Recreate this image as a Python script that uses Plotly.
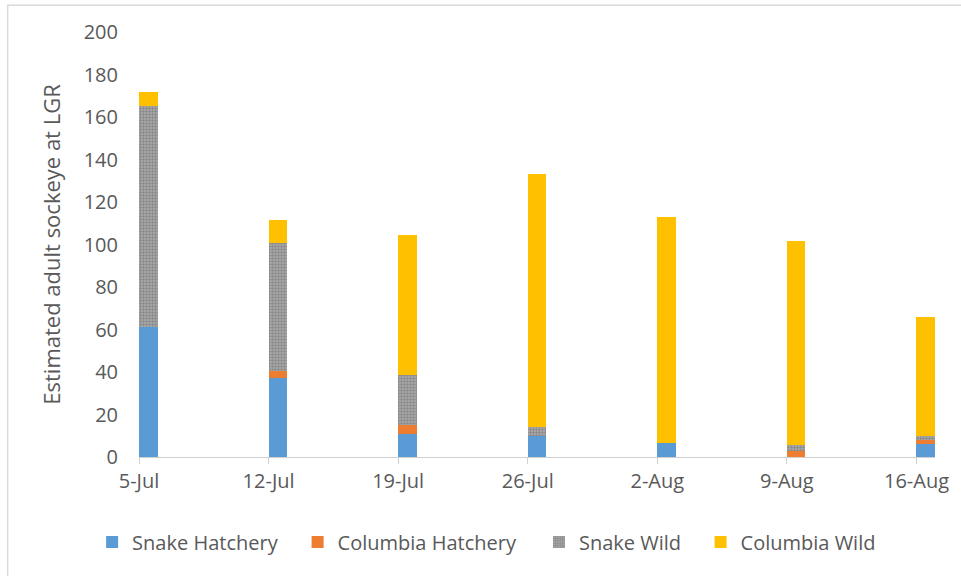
import plotly.graph_objects as go

dates = ["5-Jul", "12-Jul", "19-Jul", "26-Jul", "2-Aug", "9-Aug", "16-Aug"]
day_offset = [0, 7, 14, 21, 28, 35, 42]  # days since 5-Jul

snake_hatchery = [61, 37, 11, 10, 6.5, 0, 6]
columbia_hatchery = [0, 3.5, 4, 0, 0, 3, 2]
snake_wild = [104, 60, 23.5, 4, 0, 2.5, 2]
columbia_wild = [7, 11, 66, 119, 106.5, 96, 56]

y_ticks = [0, 20, 40, 60, 80, 100, 120, 140, 160, 180, 200]

FONT = "Open Sans"
TXT = "#595959"

L, R = 139, 937
def px_to_paper(px):
    return (px - L) / (R - L)

fig = go.Figure()

series = [
    ("Snake Hatchery", snake_hatchery, "#5B9BD5", None, "legend", 106),
    ("Columbia Hatchery", columbia_hatchery, "#ED7D31", None, "legend2", 312),
    ("Snake Wild", snake_wild, "#A5A5A5", "pattern", "legend3", 554),
    ("Columbia Wild", columbia_wild, "#FFC000", None, "legend4", 716),
]

legends = {}
for name, vals, color, pat, lg, sq in series:
    marker = dict(color=color, line=dict(width=0))
    if pat:
        marker["pattern"] = dict(shape=".", size=3, solidity=0.5,
                                 fgcolor="#888888", bgcolor="#ADADAD",
                                 fillmode="replace")
    fig.add_trace(go.Bar(
        name=name, x=day_offset, y=vals, width=1.0, offset=0,
        marker=marker, legend=lg,
    ))
    legends[lg] = dict(orientation="h", x=px_to_paper(sq - 14), xanchor="left",
                       y=(457 - 542) / 425, yanchor="middle",
                       font=dict(family=FONT, size=20, color=TXT),
                       bgcolor="rgba(0,0,0,0)", itemwidth=30)

fig.update_layout(
    barmode="stack",
    width=961, height=576,
    margin=dict(l=L, r=961 - R, t=32, b=119),
    paper_bgcolor="white", plot_bgcolor="white",
    font=dict(family=FONT, size=20, color=TXT),
    showlegend=True,
    xaxis=dict(
        range=[0, 43], tickmode="array", tickvals=day_offset, ticktext=dates,
        showgrid=False, zeroline=False,
        showline=True, linecolor="#D0D0D0", linewidth=1,
        ticks="outside", ticklen=6, tickcolor="#D0D0D0",
        tickfont=dict(family=FONT, size=20, color=TXT),
    ),
    yaxis=dict(
        range=[0, 200], tickmode="array", tickvals=y_ticks,
        showgrid=False, zeroline=False, showline=False,
        ticks="", ticklabelstandoff=20,
        tickfont=dict(family=FONT, size=20, color=TXT),
        title=dict(text="Estimated adult sockeye at LGR",
                   font=dict(family=FONT, size=22, color=TXT), standoff=16),
    ),
    shapes=[dict(type="rect", xref="paper", yref="paper",
                 x0=-0.165, x1=1.2, y0=-0.4, y1=1.063,
                 line=dict(color="#D9D9D9", width=1.5), layer="below")],
    **legends,
)

fig.write_html("out.html")
